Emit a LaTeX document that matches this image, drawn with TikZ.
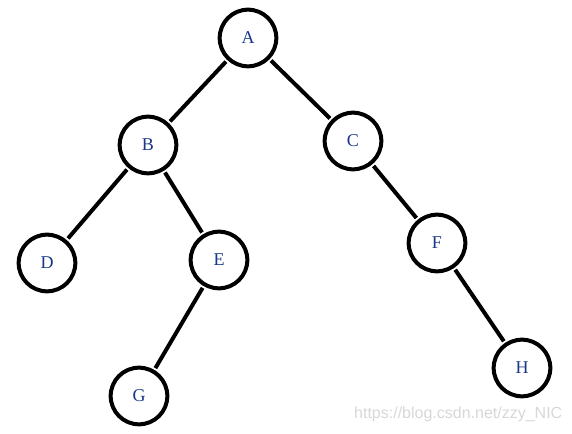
\documentclass[tikz,border=0pt]{standalone}
\usepackage{fontspec}
\setmainfont{Liberation Serif}
\newfontfamily\wmfont{Liberation Sans}
\usepackage{xcolor}
\usepackage{tikz}
\definecolor{dBlue}{RGB}{25,55,135}
\definecolor{lGray}{RGB}{215,215,215}

\begin{document}
\begin{tikzpicture}[x=0.75pt,y=0.75pt,font=\fontsize{13.5}{14}\selectfont,
  nd/.style={draw,circle,line width=3pt,minimum size=42.5pt,inner sep=0pt,text=dBlue},
  ed/.style={line width=3pt,shorten >=1.5pt,shorten <=1.5pt}]
\useasboundingbox (0,0) rectangle (572,-434);
\node[nd] (a) at (248,-38)  {A};
\node[nd] (b) at (148,-145) {B};
\node[nd] (c) at (353,-141) {C};
\node[nd] (d) at (47,-263)  {D};
\node[nd] (e) at (219,-260) {E};
\node[nd] (f) at (437,-243) {F};
\node[nd] (g) at (139,-396) {G};
\node[nd] (h) at (522,-368) {H};
\node[text=lGray,font=\wmfont\fontsize{12}{12}\selectfont,anchor=east] (wm) at (567,-414) {https://blog.csdn.net/zzy\_NIC};
\draw[ed] (a) -- (b); \draw[ed] (a) -- (c);
\draw[ed] (b) -- (d); \draw[ed] (b) -- (e);
\draw[ed] (e) -- (g);
\draw[ed] (c) -- (f); \draw[ed] (f) -- (h);
\end{tikzpicture}
\end{document}
